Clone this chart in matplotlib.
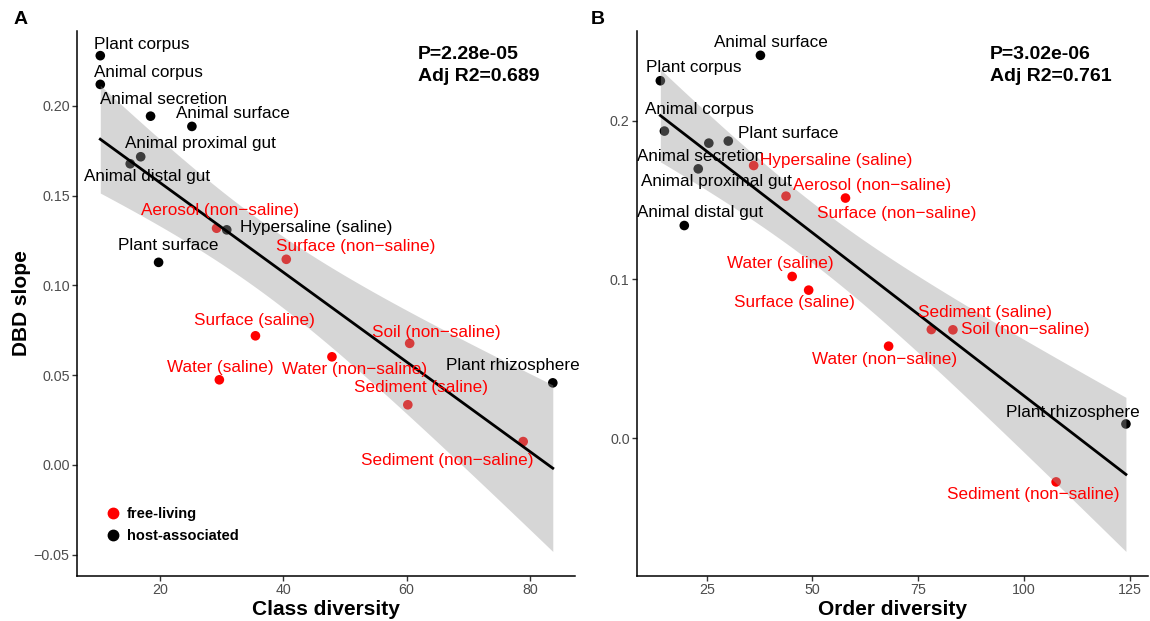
import numpy as np
import matplotlib
matplotlib.use("Agg")
import matplotlib.pyplot as plt
from matplotlib.ticker import FuncFormatter
from matplotlib.lines import Line2D

plt.rcParams['font.family'] = ['Liberation Sans', 'DejaVu Sans']

# ---------------- data ----------------
labels_a = ["Plant corpus", "Animal corpus", "Animal secretion", "Animal surface",
            "Animal proximal gut", "Animal distal gut", "Aerosol (non\u2212saline)",
            "Hypersaline (saline)", "Plant surface", "Surface (non\u2212saline)",
            "Surface (saline)", "Water (saline)", "Water (non\u2212saline)",
            "Soil (non\u2212saline)", "Sediment (saline)", "Sediment (non\u2212saline)",
            "Plant rhizosphere"]
class_div = [10.35, 10.35, 18.5, 25.2, 16.9, 15.2, 29.2, 30.85, 19.8, 40.5,
             35.5, 29.65, 47.9, 60.5, 60.2, 78.9, 83.7]
slope_a = [0.2279, 0.2119, 0.1942, 0.1885, 0.1716, 0.1677, 0.1318, 0.1309, 0.1128, 0.1145,
           0.0719, 0.0474, 0.0602, 0.0677, 0.0335, 0.0130, 0.0457]
group_a = ["host", "host", "host", "host", "host", "host", "free", "host", "host", "free",
           "free", "free", "free", "free", "free", "free", "host"]

labels_b = ["Animal surface", "Plant corpus", "Animal corpus", "Animal secretion",
            "Plant surface", "Animal proximal gut", "Animal distal gut",
            "Hypersaline (saline)", "Aerosol (non\u2212saline)", "Surface (non\u2212saline)",
            "Water (saline)", "Surface (saline)", "Sediment (saline)", "Soil (non\u2212saline)",
            "Water (non\u2212saline)", "Plant rhizosphere", "Sediment (non\u2212saline)"]
order_div = [37.7, 14.04, 15.0, 25.5, 30.1, 23.0, 19.7, 36.1, 43.75, 57.8,
             45.2, 49.1, 78.1, 83.2, 68.0, 124.1, 107.6]
slope_b = [0.2412, 0.2252, 0.1935, 0.1859, 0.1872, 0.1697, 0.1340, 0.1718, 0.1525, 0.1513,
           0.1019, 0.0933, 0.0685, 0.0683, 0.0580, 0.0090, -0.0275]
group_b = ["host", "host", "host", "host", "host", "host", "host", "free", "free", "free",
           "free", "free", "free", "free", "free", "host", "free"]

stats_a = "P=2.28e-05\nAdj R2=0.689"
stats_b = "P=3.02e-06\nAdj R2=0.761"

# label offsets (pixels) for the repelled text labels
off_a = [(41, 11), (48, 12), (13, 17), (41, 13), (60, 13), (17, -13), (3, 18), (89, 2),
         (10, 17), (69, 13), (-1, 15), (1, 12), (23, -13), (27, 11), (13, 17), (-76, -19),
         (-40, 17)]
off_b = [(11, 13), (33, 13), (35, 22), (-8, -13), (60, 8), (18, -13), (16, 13), (83, 5),
         (86, 11), (51, -15), (-12, 13), (-14, -12), (54, 17), (72, 0), (-4, -13),
         (-53, 11), (-23, -13)]

COL = {"free": "#FF0000", "host": "#000000"}
T975 = 2.1314  # t quantile, df = 15


def fit_band(x, y):
    x = np.asarray(x, float); y = np.asarray(y, float)
    n = len(x)
    b, a = np.polyfit(x, y, 1)
    res = y - (a + b * x)
    s = np.sqrt(np.sum(res ** 2) / (n - 2))
    xs = np.linspace(x.min(), x.max(), 200)
    yh = a + b * xs
    se = s * np.sqrt(1.0 / n + (xs - x.mean()) ** 2 / np.sum((x - x.mean()) ** 2))
    return xs, yh, yh - T975 * se, yh + T975 * se


def minus_fmt(fmt):
    return FuncFormatter(lambda v, p: (fmt % v).replace('-', '\u2212'))


def panel(ax, x, y, groups, labels, offs, xlim, ylim, xticks, yticks, yfmt, xlabel, ylabel, stats, statx):
    cols = [COL[g] for g in groups]
    ax.scatter(x, y, s=48, c=cols, linewidths=0, zorder=2)
    xs, yh, lo, hi = fit_band(x, y)
    ax.fill_between(xs, lo, hi, color='#999999', alpha=0.4, linewidth=0, zorder=3)
    ax.plot(xs, yh, color='black', lw=2.0, zorder=4)
    for xi, yi, lab, g, o in zip(x, y, labels, groups, offs):
        ax.annotate(lab, (xi, yi), xytext=o, textcoords='offset pixels',
                    ha='center', va='center', fontsize=12.3, color=COL[g], zorder=5)
    ax.set_xlim(*xlim); ax.set_ylim(*ylim)
    ax.set_xticks(xticks); ax.set_yticks(yticks)
    ax.yaxis.set_major_formatter(minus_fmt(yfmt))
    for sp in ['top', 'right']:
        ax.spines[sp].set_visible(False)
    for sp in ['left', 'bottom']:
        ax.spines[sp].set_linewidth(1.1)
    ax.tick_params(axis='both', labelsize=10.3, labelcolor='#4D4D4D', color='#333333',
                   length=3.5, width=1.0, pad=2)
    ax.set_xlabel(xlabel, fontsize=15, fontweight='bold', labelpad=2)
    if ylabel:
        ax.set_ylabel(ylabel, fontsize=15, fontweight='bold', labelpad=2)
    ax.text(statx, 0.973, stats, transform=ax.transAxes, ha='left', va='top',
            fontsize=14, fontweight='bold', linespacing=1.38)


fig = plt.figure(figsize=(11.5, 6.21), dpi=100)
axA = fig.add_axes([0.0672, 0.0729, 0.4328, 0.8771])
axB = fig.add_axes([0.5542, 0.0729, 0.4440, 0.8771])

panel(axA, class_div, slope_a, group_a, labels_a, off_a, (6.62, 87.3), (-0.0617, 0.2416),
      [20, 40, 60, 80], [-0.05, 0.0, 0.05, 0.10, 0.15, 0.20], '%.2f',
      "Class diversity", "DBD slope", stats_a, 0.684)
panel(axB, order_div, slope_b, group_b, labels_b, off_b, (8.6, 129.3), (-0.0866, 0.2565),
      [25, 50, 75, 100, 125], [0.0, 0.1, 0.2], '%.1f',
      "Order diversity", None, stats_b, 0.691)

handles = [Line2D([], [], marker='o', ls='', color=COL['free'], markersize=7.5, label='free-living'),
           Line2D([], [], marker='o', ls='', color=COL['host'], markersize=7.5, label='host-associated')]
axA.legend(handles=handles, loc='lower left', bbox_to_anchor=(0.04, 0.046), frameon=False,
           prop={'weight': 'bold', 'size': 10.5}, handletextpad=0.35, labelspacing=0.55,
           handlelength=1.2, borderpad=0)

fig.text(20.5 / 1150, 1 - 19 / 621, "A", fontsize=14, fontweight='bold', ha='center', va='center')
fig.text(598 / 1150, 1 - 19 / 621, "B", fontsize=14, fontweight='bold', ha='center', va='center')

fig.savefig("out.png", dpi=100)
